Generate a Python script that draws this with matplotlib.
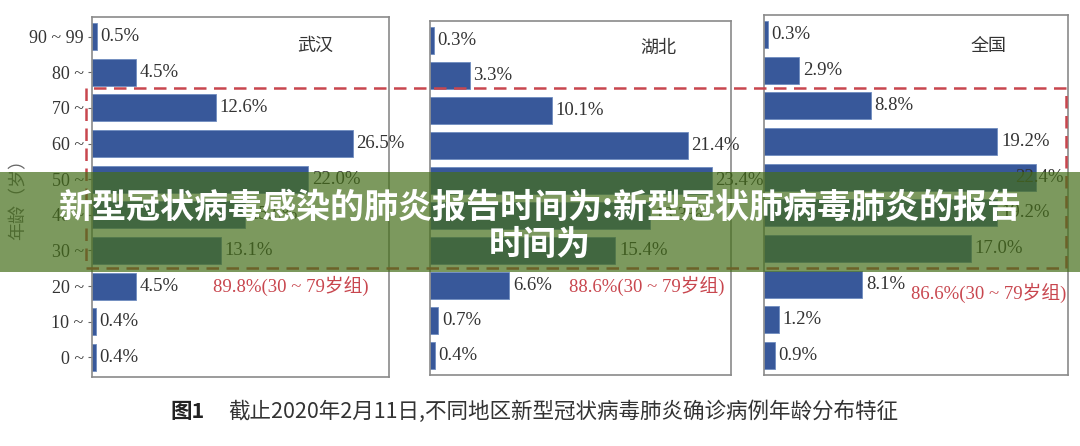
import matplotlib
matplotlib.use("Agg")
import matplotlib.pyplot as plt
from matplotlib.patches import Rectangle

plt.rcParams['font.family'] = ['Liberation Serif', 'Noto Sans CJK SC', 'DejaVu Sans']

# ---- data ----
age_groups = ["0 ~", "10 ~", "20 ~", "30 ~", "40 ~", "50 ~", "60 ~", "70 ~", "80 ~", "90 ~ 99"]
regions = ["武汉", "湖北", "全国"]
wuhan = [0.4, 0.4, 4.5, 13.1, 15.6, 22.0, 26.5, 12.6, 4.5, 0.5]
hubei = [0.4, 0.7, 6.6, 15.4, 18.3, 23.4, 21.4, 10.1, 3.3, 0.3]
national = [0.9, 1.2, 8.1, 17.0, 19.2, 22.4, 19.2, 8.8, 2.9, 0.3]
series = [wuhan, hubei, national]
group_notes = ["89.8%(30 ~ 79岁组)", "88.6%(30 ~ 79岁组)", "86.6%(30 ~ 79岁组)"]
title_line1 = "新型冠状病毒感染的肺炎报告时间为:新型冠状肺病毒肺炎的报告"
title_line2 = "时间为"
caption_bold = "图1"
caption = "截止2020年2月11日,不同地区新型冠状病毒肺炎确诊病例年龄分布特征"
ylabel = "年龄（岁）"

W, H = 1080, 446
fig = plt.figure(figsize=(W / 100, H / 100), dpi=100)
fig.patch.set_facecolor("white")

def px_axes(x0, y0, x1, y1):
    return fig.add_axes([x0 / W, 1 - y1 / H, (x1 - x0) / W, (y1 - y0) / H])

# pixel boxes for the three panels and x-limits
boxes = [(92, 17, 389, 377), (430, 21, 731, 375), (764, 15, 1068, 375)]
xlims = [30.2, 25.0, 25.0]
title_pos = [(0.75, 0.92), (0.76, 0.925), (0.74, 0.915)]
note_pos = [(0.93, 2.0), (0.98, 2.0), (0.995, 1.75)]
bar_color = "#38589a"
text_col = "#333333"
red = "#c8464e"

for i, (box, vals) in enumerate(zip(boxes, series)):
    ax = px_axes(*box)
    y = list(range(len(age_groups)))
    ax.barh(y, vals, height=0.76, color=bar_color, edgecolor="#6f8cc0", linewidth=0.6)
    ax.set_xlim(0, xlims[i])
    ax.set_ylim(-0.55, 9.55)
    ax.set_xticks([])
    if i == 0:
        ax.set_yticks(y)
        ax.set_yticklabels(age_groups, fontsize=13, color=text_col)
        ax.tick_params(axis="y", length=3, width=0.8, color="#666666", pad=3)
    else:
        ax.set_yticks([])
    for s in ax.spines.values():
        s.set_color("#8a8a8a")
        s.set_linewidth(1.2)
    last = (i == len(series) - 1)
    for yy, v in zip(y, vals):
        if last and v > xlims[i] * 0.85:
            ax.text(xlims[i] * 0.985, yy, f"{v:.1f}%", va="center", ha="right",
                    fontsize=13.5, color=text_col)
        else:
            ax.text(v + xlims[i] * 0.012, yy, f"{v:.1f}%", va="center", ha="left",
                    fontsize=13.5, color=text_col)
    ax.text(title_pos[i][0], title_pos[i][1], regions[i], transform=ax.transAxes,
            ha="center", va="center", fontsize=13, color=text_col,
            family=['Noto Sans CJK SC'])
    ax.text(note_pos[i][0], note_pos[i][1], group_notes[i], transform=ax.get_yaxis_transform(),
            ha="right", va="center", fontsize=13.5, color=red,
            family=['Liberation Serif', 'Noto Sans CJK SC'])

# y axis label
fig.text(18 / W, 1 - 195 / H, ylabel, rotation=90, ha="center", va="center",
         fontsize=13, color="#666666", family=['Noto Sans CJK SC'])

# red dashed rectangle around 30-79 groups
rx0, ry0, rx1, ry1 = 86, 88, 1066, 268
fig.add_artist(Rectangle((rx0 / W, 1 - ry1 / H), (rx1 - rx0) / W, (ry1 - ry0) / H,
                         transform=fig.transFigure, fill=False, edgecolor=red,
                         linestyle=(0, (5, 3)), linewidth=1.8, zorder=5))

# green banner
fig.add_artist(Rectangle((0, 1 - 272 / H), 1, 100 / H, transform=fig.transFigure,
                         facecolor=(0.27, 0.43, 0.1), alpha=0.7, edgecolor="none", zorder=10))
fig.text(0.5, 1 - 207 / H, title_line1, ha="center", va="center", fontsize=24.5,
         fontweight="bold", color="white", family=['Noto Sans CJK SC'], zorder=11)
fig.text(0.5, 1 - 244 / H, title_line2, ha="center", va="center", fontsize=24.5,
         fontweight="bold", color="white", family=['Noto Sans CJK SC'], zorder=11)

# caption
fig.text(205 / W, 1 - 412 / H, caption_bold, ha="right", va="center", fontsize=15.5,
         fontweight="bold", color="#222222", family=['Noto Sans CJK SC'])
fig.text(228 / W, 1 - 412 / H, caption, ha="left", va="center", fontsize=15.5,
         color="#333333", family=['Noto Sans CJK SC'])

fig.savefig("out.png", dpi=100)
